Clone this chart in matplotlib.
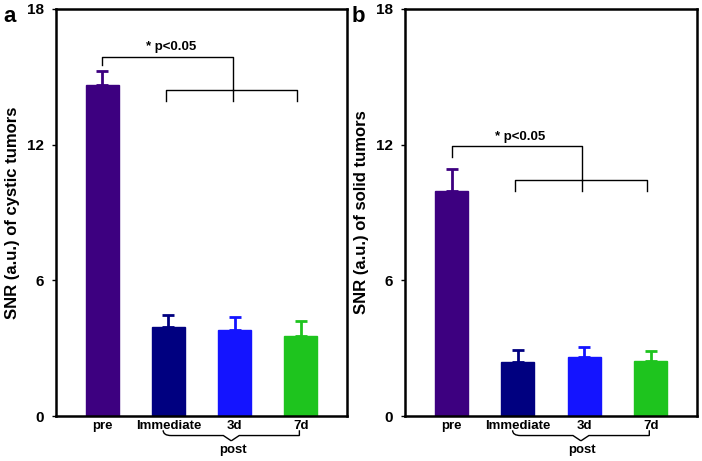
import matplotlib.pyplot as plt
from matplotlib.path import Path
from matplotlib.patches import PathPatch
import matplotlib.transforms as mtransforms

plt.rcParams['font.family'] = ['Liberation Sans', 'DejaVu Sans']
plt.rcParams['font.weight'] = 'bold'

# Datos
categorias = ['pre', 'Immediate', '3d', '7d']
colores = ['#3d0080', '#000080', '#1414ff', '#1ec41e']
snr_quistico = [14.63, 3.92, 3.82, 3.54]
err_quistico = [0.63, 0.53, 0.57, 0.67]
snr_solido = [9.96, 2.37, 2.62, 2.43]
err_solido = [0.97, 0.55, 0.44, 0.44]
etiquetas_y = ['SNR (a.u.) of cystic tumors', 'SNR (a.u.) of solid tumors']
paneles = ['a', 'b']
# alturas de los corchetes: (superior, pie izquierdo, inferior, pies inferiores, texto)
corchetes = [(15.86, 15.52, 14.41, 13.93, 16.3),
             (11.95, 11.46, 10.43, 9.95, 12.33)]

fig = plt.figure(figsize=(7.02, 4.61), dpi=100)
posiciones = [[0.0798, 0.0976, 0.4145, 0.8829], [0.577, 0.0976, 0.416, 0.8829]]


def llave(ax, x0, x1, y_top, y_mid, y_tip):
    # llave horizontal con la punta hacia abajo
    trans = mtransforms.blended_transform_factory(ax.transData, ax.transAxes)
    xm = (x0 + x1) / 2
    d = 0.12
    verts = [(x0, y_top), (x0, y_mid), (x0 + d, y_mid),
             (xm - d, y_mid), (xm - d, y_mid), (xm, y_tip),
             (xm, y_tip), (xm + d, y_mid), (xm + d, y_mid),
             (x1 - d, y_mid), (x1 - d, y_mid), (x1, y_mid), (x1, y_top)]
    codes = [Path.MOVETO, Path.CURVE3, Path.CURVE3,
             Path.LINETO, Path.CURVE3, Path.CURVE3,
             Path.MOVETO, Path.CURVE3, Path.CURVE3,
             Path.LINETO, Path.CURVE3, Path.CURVE3, Path.LINETO]
    p = PathPatch(Path(verts, codes), transform=trans, fill=False,
                  lw=1.0, color='black', clip_on=False)
    ax.add_patch(p)


for i, (valores, errores) in enumerate([(snr_quistico, err_quistico), (snr_solido, err_solido)]):
    ax = fig.add_axes(posiciones[i])
    x = range(len(categorias))
    ax.bar(x, valores, width=0.5, color=colores, edgecolor=colores, zorder=2)
    for xi, v, e, c in zip(x, valores, errores, colores):
        ax.errorbar(xi, v, yerr=[[0], [e]], color=c, lw=2, capsize=4.5,
                    capthick=2, zorder=1)
    ax.set_xlim(-0.7, 3.7)
    ax.set_ylim(0, 18)
    ax.set_yticks([0, 6, 12, 18])
    ax.set_xticks(list(x))
    ax.set_xticklabels(categorias, fontsize=9.5, fontweight='bold')
    ax.tick_params(axis='x', length=0, pad=3)
    ax.tick_params(axis='y', direction='out', length=3, width=1, labelsize=11, pad=6)
    for s in ax.spines.values():
        s.set_linewidth(1.8)
    ax.set_ylabel(etiquetas_y[i], fontsize=12, fontweight='bold')
    ax.yaxis.set_label_coords(-0.125, 0.5)

    # corchetes de significancia
    yt, yl, yb, yf, ytx = corchetes[i]
    ax.plot([0, 0, 1.97, 1.97], [yl, yt, yt, yb], color='black', lw=1.0)
    ax.plot([0.96, 0.96, 2.94, 2.94], [yf, yb, yb, yf], color='black', lw=1.0)
    ax.plot([1.97, 1.97], [yb, yf], color='black', lw=1.0)
    ax.text(1.04, ytx, '* p<0.05', ha='center', va='center', fontsize=9.5, fontweight='bold')

    llave(ax, 0.92, 2.98, -0.035, -0.048, -0.061)
    ax.text(1.97, -0.084, 'post', transform=mtransforms.blended_transform_factory(ax.transData, ax.transAxes),
            ha='center', va='center', fontsize=9.5, fontweight='bold')

    fig.text(posiciones[i][0] - 0.066, 0.965, paneles[i], fontsize=16, fontweight='bold',
             ha='center', va='center')

fig.savefig('out.png', dpi=100)
